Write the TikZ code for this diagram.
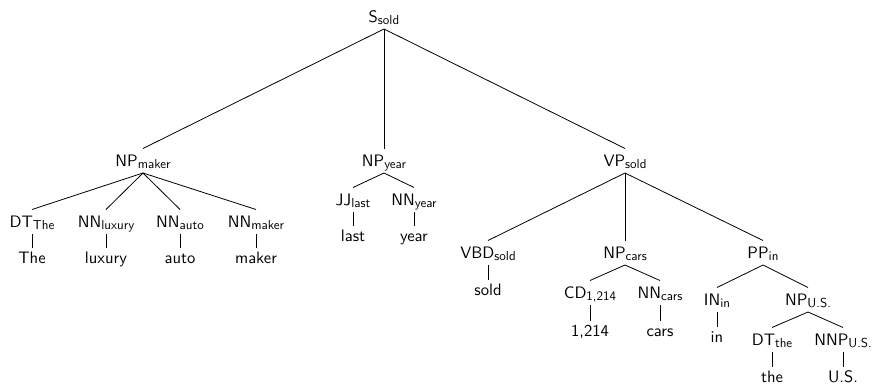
\documentclass[tikz,border=0pt]{standalone}
\usepackage{fontspec}
\setsansfont{lmsans10-regular}[Extension=.otf]
\newcommand{\lbl}[2]{#1\raisebox{-2.5pt}{\fontsize{13}{13}\selectfont #2}}
\begin{document}
\begin{tikzpicture}[x=1pt,y=-1pt,
  font=\sffamily\fontsize{16.6}{20}\selectfont,
  cat/.style={anchor=base,inner sep=0pt,outer sep=0pt,text height=17.5pt,text depth=7pt},
  word/.style={anchor=base,inner sep=0pt,outer sep=0pt,text height=15pt,text depth=0pt},
  branch/.style={line width=0.8pt}]
\useasboundingbox (0,0) rectangle (874,386);
% phrase and part-of-speech nodes
\node[cat] (S)      at (384,22)  {\lbl{S}{sold}};
\node[cat] (NPm)    at (143,166) {\lbl{NP}{maker}};
\node[cat] (NPy)    at (384,166) {\lbl{NP}{year}};
\node[cat] (VP)     at (625,166) {\lbl{VP}{sold}};
\node[cat] (DTa)    at (32,227)  {\lbl{DT}{The}};
\node[cat] (NNlux)  at (106,227) {\lbl{NN}{luxury}};
\node[cat] (NNauto) at (180,227) {\lbl{NN}{auto}};
\node[cat] (NNmak)  at (256,227) {\lbl{NN}{maker}};
\node[cat] (JJ)     at (353,205) {\lbl{JJ}{last}};
\node[cat] (NNyr)   at (414,205) {\lbl{NN}{year}};
\node[cat] (VBD)    at (488,258) {\lbl{VBD}{sold}};
\node[cat] (NPc)    at (625,258) {\lbl{NP}{cars}};
\node[cat] (PP)     at (763,258) {\lbl{PP}{in}};
\node[cat] (CD)     at (590,298) {\lbl{CD}{1,214}};
\node[cat] (NNcars) at (660,298) {\lbl{NN}{cars}};
\node[cat] (IN)     at (717,305) {\lbl{IN}{in}};
\node[cat] (NPus)   at (808,305) {\lbl{NP}{U.S.}};
\node[cat] (DTb)    at (772,345) {\lbl{DT}{the}};
\node[cat] (NNP)    at (843,345) {\lbl{NNP}{U.S.}};
% words
\node[word] (wThe)    at (32,263)  {The};
\node[word] (wLux)    at (106,263) {luxury};
\node[word] (wAuto)   at (180,263) {auto};
\node[word] (wMaker)  at (256,263) {maker};
\node[word] (wLast)   at (353,241) {last};
\node[word] (wYear)   at (414,241) {year};
\node[word] (wSold)   at (488,295) {sold};
\node[word] (wNum)    at (590,336) {1,214};
\node[word] (wCars)   at (660,336) {cars};
\node[word] (wIn)     at (717,342) {in};
\node[word] (wthe)    at (772,382) {the};
\node[word] (wUS)     at (843,382) {U.S.};
% branches
\foreach \p/\c in {S/NPm,S/NPy,S/VP,
                   NPm/DTa,NPm/NNlux,NPm/NNauto,NPm/NNmak,
                   NPy/JJ,NPy/NNyr,
                   VP/VBD,VP/NPc,VP/PP,
                   NPc/CD,NPc/NNcars,
                   PP/IN,PP/NPus,
                   NPus/DTb,NPus/NNP,
                   DTa/wThe,NNlux/wLux,NNauto/wAuto,NNmak/wMaker,
                   JJ/wLast,NNyr/wYear,VBD/wSold,
                   CD/wNum,NNcars/wCars,IN/wIn,DTb/wthe,NNP/wUS}
  \draw[branch] (\p.south) -- (\c.north);
\end{tikzpicture}
\end{document}
